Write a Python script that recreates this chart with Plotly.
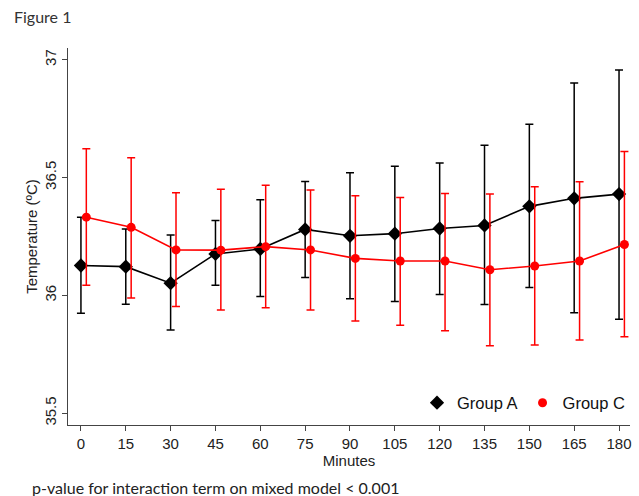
import plotly.graph_objects as go

minutes = [0, 15, 30, 45, 60, 75, 90, 105, 120, 135, 150, 165, 180]
tick_labels = [str(m) for m in minutes]

group_a_mean = [36.127, 36.122, 36.052, 36.176, 36.197, 36.280, 36.253, 36.262, 36.284, 36.297, 36.378, 36.412, 36.430]
group_a_upper = [36.332, 36.282, 36.256, 36.318, 36.406, 36.483, 36.521, 36.548, 36.562, 36.637, 36.726, 36.901, 36.957]
group_a_lower = [35.924, 35.962, 35.853, 36.043, 35.995, 36.076, 35.986, 35.974, 36.004, 35.961, 36.034, 35.926, 35.899]

group_c_mean = [36.332, 36.289, 36.193, 36.192, 36.207, 36.193, 36.157, 36.146, 36.146, 36.109, 36.125, 36.146, 36.216]
group_c_upper = [36.622, 36.584, 36.436, 36.450, 36.468, 36.447, 36.423, 36.416, 36.433, 36.430, 36.461, 36.482, 36.611]
group_c_lower = [36.043, 35.989, 35.953, 35.938, 35.948, 35.938, 35.891, 35.873, 35.850, 35.786, 35.790, 35.811, 35.825]

c_offset = 1.8  # horizontal dodge of group C (minutes)

fig = go.Figure()

def add_group(x, mean, upper, lower, color, symbol, size, name):
    fig.add_trace(go.Scatter(
        x=x, y=mean, mode="lines+markers", name=name, showlegend=False,
        line=dict(color=color, width=1.6),
        marker=dict(color=color, symbol=symbol, size=size),
        error_y=dict(type="data", symmetric=False,
                     array=[u - m for u, m in zip(upper, mean)],
                     arrayminus=[m - l for m, l in zip(mean, lower)],
                     color=color, thickness=1.5, width=4),
    ))
    fig.add_trace(go.Scatter(
        x=[None], y=[None], mode="markers", name=name, showlegend=True,
        marker=dict(color=color, symbol=symbol, size=size),
    ))

add_group(minutes, group_a_mean, group_a_upper, group_a_lower, "black", "diamond", 11, "Group A")
add_group([m + c_offset for m in minutes], group_c_mean, group_c_upper, group_c_lower, "#ff0000", "circle", 9, "Group C")

axis_font = dict(family="Liberation Sans, Arial, sans-serif", size=15, color="#222")

fig.update_layout(
    width=639, height=496,
    margin=dict(l=68, r=7, t=48, b=71),
    paper_bgcolor="white", plot_bgcolor="white",
    font=axis_font,
    showlegend=True,
    legend=dict(orientation="h", x=1.0, xanchor="right", y=0.012, yanchor="bottom",
                font=dict(family="Liberation Sans, Arial, sans-serif", size=16.5, color="#111"),
                bgcolor="rgba(0,0,0,0)", tracegroupgap=0),
    xaxis=dict(range=[-4.33, 183.67], tickmode="array", tickvals=minutes, ticktext=tick_labels,
               showgrid=False, zeroline=False, showline=True, linecolor="#444", linewidth=1.2,
               ticks="outside", ticklen=5, tickcolor="#444", tickfont=axis_font,
               title=dict(text="Minutes", font=axis_font, standoff=0)),
    yaxis=dict(range=[35.45, 37.05], tickmode="array", tickvals=[35.5, 36, 36.5, 37],
               ticktext=["35.5", "36", "36.5", "37"], tickangle=-90,
               showgrid=False, zeroline=False, showline=True, linecolor="#444", linewidth=1.2,
               ticks="outside", ticklen=5, tickcolor="#444", tickfont=axis_font,
               title=dict(text="Temperature (ºC)", font=axis_font, standoff=0)),
    annotations=[
        dict(text="Figure 1", xref="paper", yref="paper", x=-0.1, y=1.052,
             xanchor="left", yanchor="bottom", showarrow=False,
             font=dict(family="Lato, Open Sans, sans-serif", size=16, color="#333")),
        dict(text="p-value for interaction term on mixed model < 0.001", xref="paper", yref="paper",
             x=-0.068, y=-0.135, xanchor="left", yanchor="top", showarrow=False,
             font=dict(family="Lato, Open Sans, sans-serif", size=16, color="#222")),
    ],
)

fig.write_html("out.html")
